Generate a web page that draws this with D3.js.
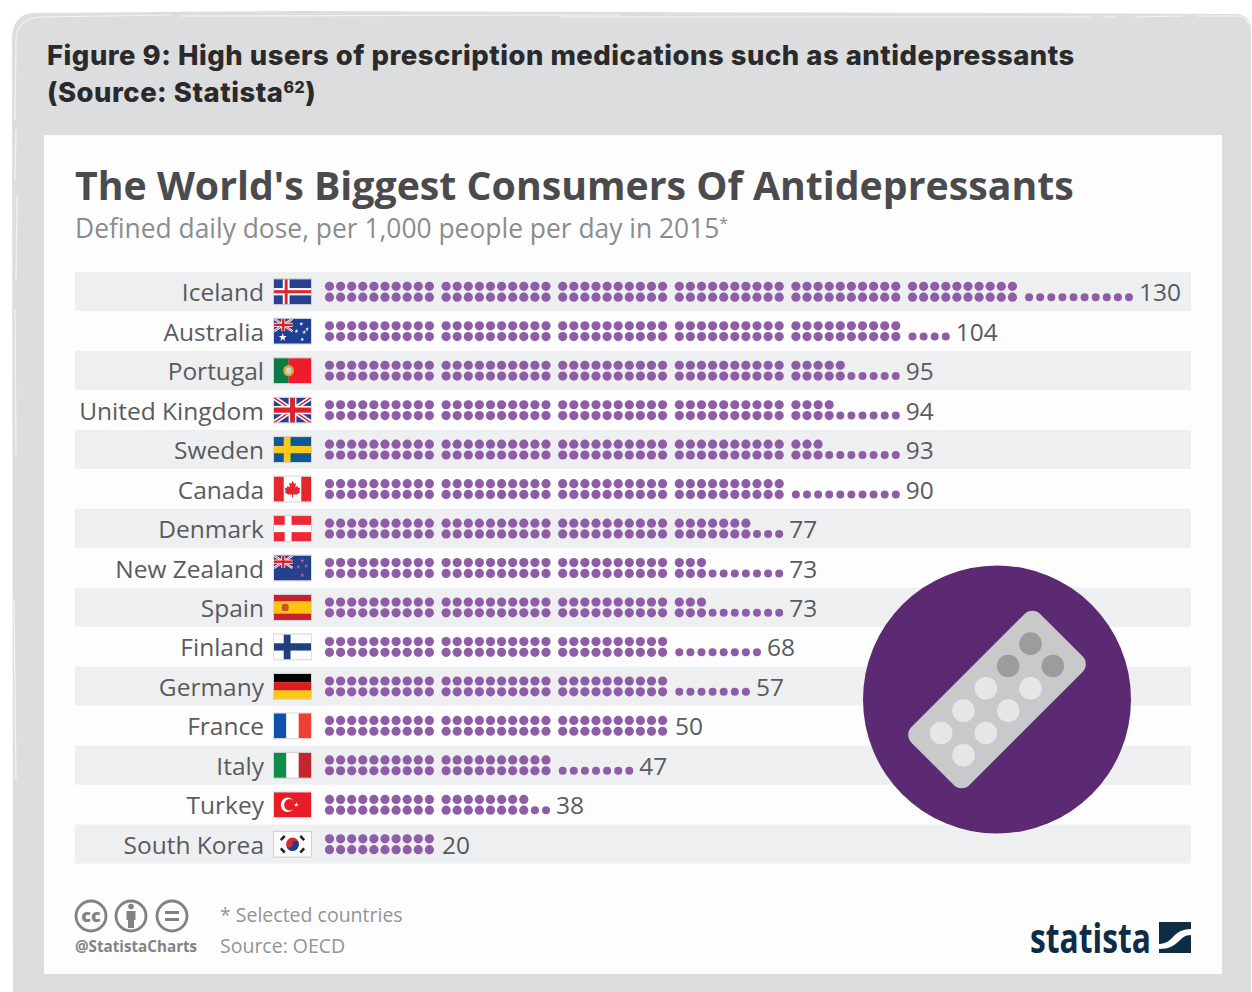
<!DOCTYPE html>
<html>
<head>
<meta charset="utf-8">
<script src="https://cdn.jsdelivr.net/npm/d3@7"></script>
<style>
  html, body { margin: 0; padding: 0; background: #fff; }
  svg { display: block; }
  text { font-family: "Open Sans", sans-serif; }
</style>
</head>
<body>
<div id="chartArea"></div>
<script>
// values
var countries = ["Iceland", "Australia", "Portugal", "United Kingdom", "Sweden", "Canada", "Denmark",
    "New Zealand", "Spain", "Finland", "Germany", "France", "Italy", "Turkey", "South Korea"];
var doseLabels = [130, 104, 95, 94, 93, 90, 77, 73, 73, 68, 57, 50, 47, 38, 20];
// the original draws more dots than its label says for Germany and France, kept as drawn
var dotCounts = [130, 104, 95, 94, 93, 90, 77, 73, 73, 68, 67, 60, 47, 38, 20];
var flagCodes = ["is", "au", "pt", "gb", "se", "ca", "dk", "nz", "es", "fi", "de", "fr", "it", "tr", "kr"];

var headerLines = ["Figure 9: High users of prescription medications such as antidepressants", "(Source: Statista"];
var chartTitle = "The World's Biggest Consumers Of Antidepressants";
var chartSubtitle = "Defined daily dose, per 1,000 people per day in 2015";
var footNotes = ["* Selected countries", "Source: OECD"];

var dotsPerRow = 10, dotsPerGroup = 20;
var pillRows = [0, 1], pillCols = [0, 1, 2, 3, 4];

var width = 1252, height = 992;
var svg = d3.select("#chartArea").append("svg").attr("width", width).attr("height", height);
var defs = svg.append("defs");
defs.append("clipPath").attr("id", "flagClip").append("rect").attr("width", 38).attr("height", 24);

// flag helpers
function bar(g, x, y, w, h, c) {
    g.append("rect").attr("x", x).attr("y", y).attr("width", w).attr("height", h).attr("fill", c);
}
function star(g, x, y, r, c) {
    g.append("path").attr("transform", "translate(" + x + "," + y + ")")
        .attr("d", d3.symbol().type(d3.symbolStar).size(r * r * 3)()).attr("fill", c);
}
function union(g) {
    bar(g, 0, 0, 38, 24, "#27418f");
    g.append("path").attr("d", "M0,0L38,24M38,0L0,24").attr("stroke", "#fff").attr("stroke-width", 4.6);
    g.append("path").attr("d", "M0,0L38,24M38,0L0,24").attr("stroke", "#d8232f").attr("stroke-width", 1.5);
    bar(g, 15, 0, 8, 24, "#fff"); bar(g, 0, 8, 38, 8, "#fff");
    bar(g, 16.5, 0, 5, 24, "#d8232f"); bar(g, 0, 9.5, 38, 5, "#d8232f");
}
function canton(g) {
    var c = g.append("g").attr("transform", "scale(0.5)");
    union(c);
}
function crossFlag(g, bg, outer, inner, vx) {
    bar(g, 0, 0, 38, 24, bg);
    bar(g, vx, 0, 7, 24, outer); bar(g, 0, 8.5, 38, 7, outer);
    if (inner) { bar(g, vx + 2, 0, 3, 24, inner); bar(g, 0, 10.5, 38, 3, inner); }
}
function tricolor(g, a, b, c) {
    bar(g, 0, 0, 12.7, 24, a); bar(g, 12.7, 0, 12.7, 24, b); bar(g, 25.4, 0, 12.7, 24, c);
}

var flagPainters = {
    is: function (g) { crossFlag(g, "#27408f", "#fff", "#dd2630", 9); },
    au: function (g) {
        bar(g, 0, 0, 38, 24, "#1f3f95"); canton(g);
        star(g, 9, 18, 2.6, "#fff");
        [[28, 5], [34, 10], [23, 12], [29, 20], [31, 13]].forEach(function (p) { star(g, p[0], p[1], 1.3, "#fff"); });
    },
    pt: function (g) {
        bar(g, 0, 0, 15, 24, "#0c7a43"); bar(g, 15, 0, 23, 24, "#ee1c2e");
        g.append("circle").attr("cx", 15).attr("cy", 12).attr("r", 5.5).attr("fill", "#d9a92e");
        g.append("circle").attr("cx", 15).attr("cy", 12).attr("r", 3).attr("fill", "#d8d5cc");
    },
    gb: union,
    se: function (g) { crossFlag(g, "#0b5a97", "#fcc81e", null, 10); },
    ca: function (g) {
        bar(g, 0, 0, 38, 24, "#fff"); bar(g, 0, 0, 10, 24, "#e5262c"); bar(g, 28, 0, 10, 24, "#e5262c");
        g.append("path").attr("fill", "#e5262c")
            .attr("d", "M19,4L20.5,7L22.5,6.2L21.8,10.5L24,9L25,11L27,10.6L26,14L27,15L23,17.5L19.6,17L19.6,20L18.4,20L18.4,17L15,17.5L11,15L12,14L11,10.6L13,11L14,9L16.2,10.5L15.5,6.2L17.5,7Z");
    },
    dk: function (g) { crossFlag(g, "#ee2737", "#fff", null, 11); },
    nz: function (g) {
        bar(g, 0, 0, 38, 24, "#23418f"); canton(g);
        [[29, 5], [25, 11], [33, 10], [29, 19]].forEach(function (p) { star(g, p[0], p[1], 1.4, "#d8606c"); });
    },
    es: function (g) {
        bar(g, 0, 0, 38, 24, "#c8202c"); bar(g, 0, 6, 38, 12, "#fdc40f");
        g.append("rect").attr("x", 8).attr("y", 8.5).attr("width", 7).attr("height", 7).attr("rx", 2.5).attr("fill", "#c4552a");
    },
    fi: function (g) { crossFlag(g, "#fbfbfb", "#1f3f7f", null, 10); },
    de: function (g) { bar(g, 0, 0, 38, 8, "#000"); bar(g, 0, 8, 38, 8, "#dd1c1f"); bar(g, 0, 16, 38, 8, "#fdc90f"); },
    fr: function (g) { tricolor(g, "#0f50a8", "#fff", "#f03e32"); },
    it: function (g) { tricolor(g, "#0f8c45", "#fff", "#c3262f"); },
    tr: function (g) {
        bar(g, 0, 0, 38, 24, "#e81c27");
        g.append("circle").attr("cx", 14).attr("cy", 12).attr("r", 7).attr("fill", "#fff");
        g.append("circle").attr("cx", 16).attr("cy", 12).attr("r", 5.6).attr("fill", "#e81c27");
        star(g, 23, 12, 1.6, "#fff");
    },
    kr: function (g) {
        bar(g, 0, 0, 38, 24, "#fbfbfb");
        g.append("circle").attr("cx", 19).attr("cy", 12).attr("r", 6.5).attr("fill", "#d62839");
        g.append("path").attr("d", "M12.5,12A6.5,6.5 0 0 0 25.5,12A3.2,3.2 0 0 0 19,12A3.2,3.2 0 0 1 12.5,12Z").attr("fill", "#1d3f8f");
        g.append("path").attr("d", "M7,8L11,4M27,4L31,8M7,16L11,20M27,20L31,16").attr("stroke", "#222").attr("stroke-width", 2.6);
    }
};

// grey page panel, the edge is a bit rough like a brush stroke
svg.append("path")
    .attr("d", "M13,992 L12,40 Q12,14 34,13 L300,11 L620,12 L1000,13 L1236,14 Q1251,15 1251,30 L1251,992 Z")
    .attr("fill", "#dcddde");
svg.append("path")
    .attr("d", "M15,120 L16,40 Q17,19 40,17 L170,15 M180,16 L620,15 M560,17 L1090,17 M1103,17 L1116,17 M1135,17 L1182,16 M1197,16 L1238,16 Q1247,17 1249,24 M16,130 L15,180 M17,195 L16,280 M15,310 L16,455 M14,600 L16,780")
    .attr("fill", "none").attr("stroke", "#f3f3f4").attr("stroke-width", 1.2);

var header = svg.append("g").attr("font-weight", 800).attr("fill", "#2b2a2b");
header.append("text").attr("x", 47).attr("y", 65).attr("font-size", 27.4)
    .style("font-family", "Inter").style("letter-spacing", "0.53px").text(headerLines[0]);
var head2 = header.append("text").attr("x", 47).attr("y", 102).attr("font-size", 27.4)
    .style("font-family", "Inter").style("letter-spacing", "0.53px").text(headerLines[1]);
head2.append("tspan").attr("font-size", 16).attr("dy", -9).text("62");
head2.append("tspan").attr("dy", 9).text(")");

// white card
svg.append("rect").attr("x", 44).attr("y", 135).attr("width", 1178).attr("height", 839).attr("fill", "#fdfdfd");

svg.append("text").attr("x", 75).attr("y", 200).attr("font-size", 39.25).attr("font-weight", 700)
    .attr("fill", "#4b4b4d").text(chartTitle);
var sub = svg.append("text").attr("x", 75).attr("y", 238).attr("font-size", 26.4)
    .attr("fill", "#8b8c8e").text(chartSubtitle);
sub.append("tspan").attr("font-size", 16).attr("dy", -9).text("*");

// scales
var yBand = d3.scaleBand().domain(countries).range([272, 864]);
var xDot = d3.scaleLinear().domain([0, 9]).range([329.5, 429.4]);
var groupStep = 116.6;
var dotGap = 10.8;

function dotX(i) {
    var group = Math.floor(i / dotsPerGroup);
    var col = i % dotsPerRow;
    return xDot(col) + group * groupStep;
}
// each group fills its bottom row first, then the top row
function isBottom(i) { return (i % dotsPerGroup) < dotsPerRow; }
// dots of an unfinished group with nothing above them are smaller
function isLoose(i, total) {
    var rest = total % dotsPerGroup;
    var unfinished = i >= total - rest;
    return unfinished && isBottom(i) && (i % dotsPerRow) >= rest - dotsPerRow;
}
function rowMid(d) { return yBand(d) + yBand.bandwidth() / 2; }

var rows = svg.selectAll("g.row").data(countries).enter().append("g").attr("class", "row");

rows.append("rect")
    .attr("x", 75).attr("width", 1116)
    .attr("y", function (d) { return yBand(d); })
    .attr("height", 39)
    .attr("fill", function (d, i) { return i % 2 == 0 ? "#eeeff0" : "#fdfdfd"; });

rows.append("text")
    .attr("x", 264).attr("text-anchor", "end")
    .attr("y", function (d) { return rowMid(d) + 9.5; })
    .attr("font-size", 24.5).attr("fill", "#5a5b5d")
    .text(function (d) { return d; });

rows.each(function (country, r) {
    var g = d3.select(this);
    var total = dotCounts[r];
    g.selectAll("circle").data(d3.range(total)).enter().append("circle")
        .attr("cx", function (i) { return dotX(i); })
        .attr("cy", function (i) { return rowMid(country) + (isBottom(i) ? dotGap / 2 : -dotGap / 2); })
        .attr("r", function (i) { return isLoose(i, total) ? 4 : 4.6; })
        .attr("fill", "#8f5ca8");

    // label follows the last dot of the bottom row
    var rest = total % dotsPerGroup;
    var lastBottom = rest == 0 ? total - 11 : total - rest + Math.min(rest, dotsPerRow) - 1;
    g.append("text")
        .attr("x", dotX(lastBottom) + (rest == 0 ? 12.5 : 10))
        .attr("y", rowMid(country) + 9.5)
        .attr("font-size", 24.5).attr("fill", "#5a5b5d")
        .text(doseLabels[r]);

    var flag = g.append("g").attr("transform", "translate(274," + (rowMid(country) - 12.5) + ") scale(0.974,1.04)");
    flag.append("rect").attr("x", -1).attr("y", -1).attr("width", 40).attr("height", 26).attr("fill", "#000").attr("opacity", 0.12);
    var inner = flag.append("g").attr("clip-path", "url(#flagClip)");
    flagPainters[flagCodes[r]](inner);
});

// pill pack icon
var icon = svg.append("g").attr("transform", "translate(997,699.5)");
icon.append("circle").attr("r", 134).attr("fill", "#5c2a72");
var pack = icon.append("g").attr("transform", "rotate(-45)");
pack.append("rect").attr("x", -91).attr("y", -41).attr("width", 182).attr("height", 82).attr("rx", 11).attr("fill", "#c9c9c9");
var pillX = d3.scalePoint().domain(pillCols).range([63.2, -63.2]);
var pillY = d3.scalePoint().domain(pillRows).range([-15.8, 15.8]);
pillCols.forEach(function (c) {
    pillRows.forEach(function (r) {
        var used = c == 0 || (c == 1 && r == 0);
        pack.append("circle")
            .attr("cx", pillX(c)).attr("cy", pillY(r)).attr("r", 11.3)
            .attr("fill", used ? "#9c9c9c" : "#e6e6e6");
    });
});

// footer, licence badges
var badges = svg.append("g").attr("fill", "none").attr("stroke", "#808183").attr("stroke-width", 2.8);
[91, 131, 172].forEach(function (x) {
    badges.append("circle").attr("cx", x).attr("cy", 916).attr("r", 15);
});
svg.append("text").attr("x", 91).attr("y", 922).attr("text-anchor", "middle")
    .attr("font-size", 18).attr("font-weight", 800).attr("fill", "#808183").text("cc");
svg.append("circle").attr("cx", 131).attr("cy", 906.5).attr("r", 2.8).attr("fill", "#808183");
svg.append("path").attr("d", "M126.5,911H135.5V920H134V928H128V920H126.5Z").attr("fill", "#808183");
svg.append("path").attr("d", "M165,912.5H179M165,919.5H179").attr("stroke", "#808183").attr("stroke-width", 3);

svg.append("text").attr("x", 75).attr("y", 952).attr("font-size", 15.2).attr("font-weight", 700)
    .attr("fill", "#828385").text("@StatistaCharts");
svg.selectAll("text.note").data(footNotes).enter().append("text").attr("class", "note")
    .attr("x", 220)
    .attr("y", function (d, i) { return 921.5 + i * 31.5; })
    .attr("font-size", 19.5).attr("fill", "#939496")
    .text(function (d) { return d; });

// statista logo
svg.append("text").attr("x", 1030).attr("y", 953).attr("font-size", 42).attr("font-weight", 700)
    .attr("textLength", 121).attr("lengthAdjust", "spacingAndGlyphs")
    .attr("fill", "#0f2c45").text("statista");
svg.append("rect").attr("x", 1159).attr("y", 922).attr("width", 32).attr("height", 31).attr("fill", "#0f2c45");
svg.append("path").attr("d", "M1159,944C1174,944 1172,929 1191,929V935C1178,935 1180,949 1159,949Z")
    .attr("fill", "#fff");
</script>
</body>
</html>
